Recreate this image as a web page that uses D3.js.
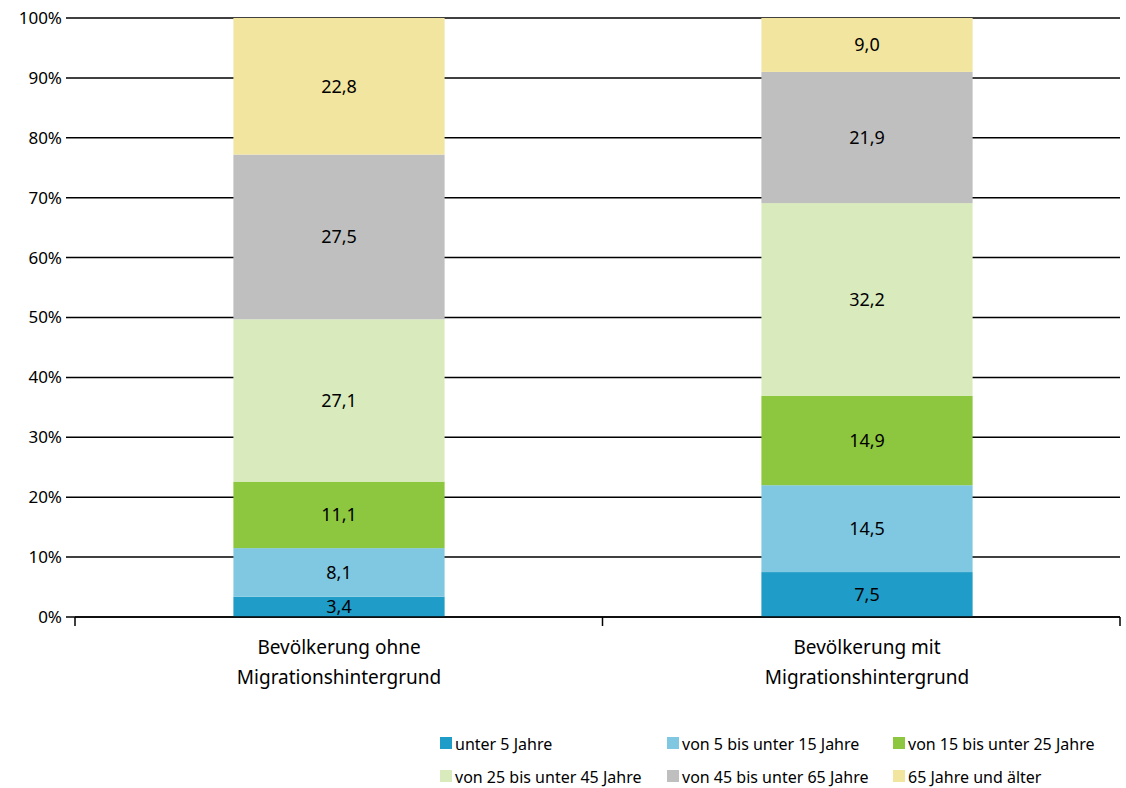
<!DOCTYPE html>
<html lang="de">
<head>
<meta charset="utf-8">
<script src="https://d3js.org/d3.v7.min.js"></script>
<style>
body { margin: 0; background: #fff; }
text { font-family: "Noto Sans", "DejaVu Sans", sans-serif; fill: #000; }
</style>
</head>
<body>
<svg width="1126" height="788"></svg>
<script>
var categories = ["Bevölkerung ohne\nMigrationshintergrund", "Bevölkerung mit\nMigrationshintergrund"];
var series = ["unter 5 Jahre", "von 5 bis unter 15 Jahre", "von 15 bis unter 25 Jahre",
              "von 25 bis unter 45 Jahre", "von 45 bis unter 65 Jahre", "65 Jahre und älter"];
var ohne = [3.4, 8.1, 11.1, 27.1, 27.5, 22.8];
var mit = [7.5, 14.5, 14.9, 32.2, 21.9, 9.0];
var colors = ["#1f9cc7", "#80c8e1", "#8dc63f", "#d9ebbd", "#bfbfbf", "#f2e59f"];
var yTicks = [0, 10, 20, 30, 40, 50, 60, 70, 80, 90, 100];

var svg = d3.select("svg");
var plotLeft = 75, plotRight = 1120, plotTop = 18, plotBottom = 617;

var x = d3.scaleBand().domain(categories).range([plotLeft, plotLeft + 1056]).paddingInner(0.6).paddingOuter(0.3);
var y = d3.scaleLinear().domain([0, 100]).range([plotBottom, plotTop]);

// gridlines
svg.append("g").selectAll("line").data(yTicks).join("line")
  .attr("x1", plotLeft - 9).attr("x2", plotRight)
  .attr("y1", d => y(d)).attr("y2", d => y(d))
  .attr("stroke", "#000").attr("stroke-width", 1.5);

svg.append("g").selectAll("text").data(yTicks).join("text")
  .attr("x", plotLeft - 13).attr("y", d => y(d)).attr("dy", "0.35em")
  .attr("text-anchor", "end").attr("font-size", 17).text(d => d + "%");

var data = [ohne, mit];
data.forEach(function(vals, i) {
  var cum = 0;
  vals.forEach(function(v, j) {
    var y0 = cum, y1 = cum + v; cum = y1;
    svg.append("rect")
      .attr("x", x(categories[i])).attr("width", x.bandwidth())
      .attr("y", y(y1)).attr("height", y(y0) - y(y1))
      .attr("fill", colors[j]);
    svg.append("text")
      .attr("x", x(categories[i]) + x.bandwidth() / 2)
      .attr("y", y((y0 + y1) / 2)).attr("dy", "0.35em")
      .attr("text-anchor", "middle").attr("font-size", 18)
      .text(v.toFixed(1).replace(".", ","));
  });
});

// x axis
svg.append("line").attr("x1", plotLeft).attr("x2", plotRight).attr("y1", plotBottom).attr("y2", plotBottom)
  .attr("stroke", "#000").attr("stroke-width", 1.5);
[plotLeft, (plotLeft + plotRight) / 2 + 5, plotRight].forEach(function(t) {
  svg.append("line").attr("x1", t).attr("x2", t).attr("y1", plotBottom).attr("y2", plotBottom + 9)
    .attr("stroke", "#000").attr("stroke-width", 1.5);
});
categories.forEach(function(c) {
  var t = svg.append("text").attr("text-anchor", "middle").attr("font-size", 19);
  c.split("\n").forEach(function(line, k) {
    t.append("tspan").attr("x", x(c) + x.bandwidth() / 2).attr("y", 654 + k * 30).text(line);
  });
});

// legend
var lx = [440, 667, 893], ly = [744, 777];
series.forEach(function(s, i) {
  var g = svg.append("g").attr("transform", "translate(" + lx[i % 3] + "," + ly[Math.floor(i / 3)] + ")");
  g.append("rect").attr("x", 0).attr("y", -7).attr("width", 12).attr("height", 12).attr("fill", colors[i]);
  g.append("text").attr("x", 15).attr("y", 0).attr("dy", "0.35em").attr("font-size", 16).text(s);
});
</script>
</body>
</html>
